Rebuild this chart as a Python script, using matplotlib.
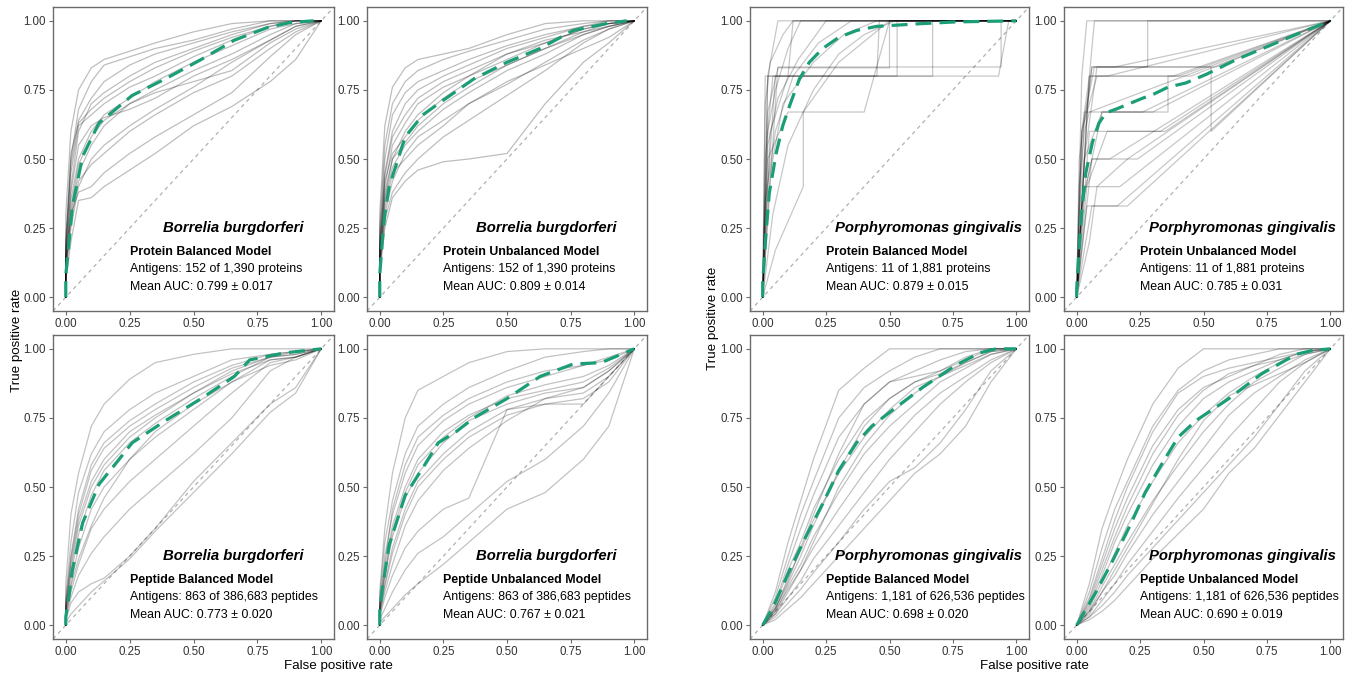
import matplotlib
matplotlib.use("Agg")
import matplotlib.pyplot as plt

plt.rcParams['font.family'] = ['Liberation Sans', 'DejaVu Sans']

# ---- data ----
SPECIES = ["Borrelia burgdorferi", "Porphyromonas gingivalis"]
MODELS = ["Protein Balanced Model", "Protein Unbalanced Model",
          "Peptide Balanced Model", "Peptide Unbalanced Model"]
ANTIGENS = {
    "bb_prot": "Antigens: 152 of 1,390 proteins",
    "bb_pep": "Antigens: 863 of 386,683 peptides",
    "pg_prot": "Antigens: 11 of 1,881 proteins",
    "pg_pep": "Antigens: 1,181 of 626,536 peptides",
}
AUC_BB = ["0.799 \u00b1 0.017", "0.809 \u00b1 0.014", "0.773 \u00b1 0.020", "0.767 \u00b1 0.021"]
AUC_PG = ["0.879 \u00b1 0.015", "0.785 \u00b1 0.031", "0.698 \u00b1 0.020", "0.690 \u00b1 0.019"]

# fpr grid used for the per-fold curves of the smooth panels
BB_GRID = [0, 0, 0.02, 0.05, 0.1, 0.15, 0.25, 0.35, 0.5, 0.65, 0.8, 0.9, 1.0]
PG_GRID = [0, 0.05, 0.1, 0.15, 0.2, 0.3, 0.4, 0.5, 0.6, 0.7, 0.8, 0.9, 1.0]

# Borrelia, protein balanced
bb_prot_bal_mean_fpr = [0, 0, 0.013, 0.026, 0.066, 0.13, 0.26, 0.39, 0.53, 0.66, 0.79, 0.88, 0.97]
bb_prot_bal_mean_tpr = [0, 0.08, 0.2, 0.33, 0.51, 0.63, 0.73, 0.79, 0.86, 0.93, 0.976, 0.994, 1.0]
bb_prot_bal_folds = [
    [0, 0.30, 0.60, 0.75, 0.83, 0.86, 0.89, 0.92, 0.96, 0.99, 1.0, 1.0, 1.0],
    [0, 0.20, 0.50, 0.68, 0.78, 0.84, 0.87, 0.90, 0.93, 0.97, 1.0, 1.0, 1.0],
    [0, 0.15, 0.40, 0.60, 0.70, 0.74, 0.80, 0.85, 0.90, 0.95, 0.99, 1.0, 1.0],
    [0, 0.18, 0.45, 0.62, 0.66, 0.70, 0.76, 0.80, 0.87, 0.93, 0.98, 1.0, 1.0],
    [0, 0.12, 0.35, 0.50, 0.60, 0.66, 0.72, 0.78, 0.85, 0.91, 0.97, 0.99, 1.0],
    [0, 0.10, 0.30, 0.45, 0.55, 0.62, 0.70, 0.75, 0.82, 0.88, 0.95, 0.99, 1.0],
    [0, 0.14, 0.38, 0.55, 0.62, 0.65, 0.68, 0.72, 0.80, 0.86, 0.93, 0.98, 1.0],
    [0, 0.08, 0.25, 0.40, 0.50, 0.55, 0.62, 0.68, 0.76, 0.85, 0.93, 0.98, 1.0],
    [0, 0.10, 0.30, 0.38, 0.40, 0.45, 0.52, 0.58, 0.66, 0.74, 0.87, 0.95, 1.0],
    [0, 0.06, 0.20, 0.35, 0.36, 0.40, 0.46, 0.52, 0.62, 0.69, 0.78, 0.86, 1.0],
    [0, 0.16, 0.48, 0.64, 0.72, 0.78, 0.84, 0.88, 0.92, 0.96, 0.99, 1.0, 1.0],
    [0, 0.12, 0.32, 0.48, 0.58, 0.64, 0.70, 0.74, 0.78, 0.82, 0.92, 0.97, 1.0],
    [0, 0.20, 0.52, 0.63, 0.68, 0.72, 0.78, 0.83, 0.89, 0.94, 0.98, 1.0, 1.0],
    [0, 0.10, 0.28, 0.42, 0.48, 0.52, 0.60, 0.66, 0.74, 0.80, 0.90, 0.96, 1.0],
]

# Borrelia, protein unbalanced
bb_prot_unb_mean_fpr = [0, 0, 0.01, 0.02, 0.037, 0.1, 0.17, 0.23, 0.37, 0.5, 0.63, 0.76, 0.89, 0.97]
bb_prot_unb_mean_tpr = [0, 0.08, 0.2, 0.3, 0.4, 0.58, 0.66, 0.70, 0.79, 0.85, 0.90, 0.965, 0.99, 1.0]
bb_prot_unb_folds = [
    [0, 0.30, 0.62, 0.76, 0.83, 0.86, 0.88, 0.90, 0.95, 0.99, 1.0, 1.0, 1.0],
    [0, 0.25, 0.55, 0.70, 0.78, 0.82, 0.86, 0.89, 0.93, 0.97, 0.99, 1.0, 1.0],
    [0, 0.20, 0.45, 0.60, 0.70, 0.75, 0.80, 0.84, 0.90, 0.94, 0.98, 1.0, 1.0],
    [0, 0.15, 0.40, 0.55, 0.63, 0.70, 0.76, 0.80, 0.86, 0.92, 0.97, 0.99, 1.0],
    [0, 0.18, 0.42, 0.52, 0.58, 0.64, 0.72, 0.78, 0.84, 0.90, 0.96, 0.99, 1.0],
    [0, 0.12, 0.35, 0.47, 0.55, 0.60, 0.68, 0.74, 0.82, 0.88, 0.95, 0.98, 1.0],
    [0, 0.10, 0.30, 0.42, 0.52, 0.58, 0.64, 0.70, 0.77, 0.85, 0.93, 0.97, 1.0],
    [0, 0.10, 0.28, 0.38, 0.45, 0.50, 0.58, 0.64, 0.73, 0.82, 0.92, 0.97, 1.0],
    [0, 0.08, 0.25, 0.36, 0.42, 0.46, 0.49, 0.50, 0.52, 0.70, 0.85, 0.92, 1.0],
    [0, 0.14, 0.38, 0.50, 0.60, 0.66, 0.74, 0.80, 0.88, 0.93, 0.96, 0.98, 1.0],
    [0, 0.22, 0.50, 0.66, 0.74, 0.78, 0.82, 0.86, 0.91, 0.95, 0.98, 0.99, 1.0],
    [0, 0.12, 0.32, 0.45, 0.50, 0.55, 0.62, 0.70, 0.78, 0.84, 0.90, 0.94, 1.0],
    [0, 0.16, 0.44, 0.58, 0.66, 0.72, 0.78, 0.82, 0.88, 0.92, 0.97, 0.99, 1.0],
    [0, 0.12, 0.36, 0.50, 0.56, 0.62, 0.70, 0.76, 0.84, 0.90, 0.95, 0.98, 1.0],
]

# Borrelia, peptide balanced
bb_pep_bal_mean_fpr = [0, 0, 0.013, 0.026, 0.066, 0.13, 0.2, 0.26, 0.39, 0.53, 0.66, 0.72, 0.855, 1.0]
bb_pep_bal_mean_tpr = [0, 0.03, 0.107, 0.2, 0.37, 0.51, 0.59, 0.66, 0.74, 0.82, 0.90, 0.96, 0.985, 1.0]
bb_pep_bal_folds = [
    [0, 0.15, 0.40, 0.55, 0.72, 0.80, 0.89, 0.95, 0.98, 1.0, 1.0, 1.0, 1.0],
    [0, 0.10, 0.30, 0.48, 0.62, 0.70, 0.78, 0.84, 0.90, 0.96, 0.98, 0.99, 1.0],
    [0, 0.08, 0.25, 0.42, 0.58, 0.66, 0.74, 0.80, 0.88, 0.94, 0.98, 0.99, 1.0],
    [0, 0.06, 0.22, 0.38, 0.52, 0.60, 0.70, 0.76, 0.84, 0.92, 0.97, 0.99, 1.0],
    [0, 0.05, 0.18, 0.33, 0.47, 0.56, 0.66, 0.73, 0.82, 0.90, 0.97, 0.98, 1.0],
    [0, 0.05, 0.15, 0.28, 0.42, 0.50, 0.60, 0.68, 0.78, 0.88, 0.96, 0.97, 1.0],
    [0, 0.04, 0.12, 0.22, 0.35, 0.42, 0.52, 0.60, 0.72, 0.84, 0.95, 0.97, 1.0],
    [0, 0.03, 0.10, 0.18, 0.26, 0.32, 0.42, 0.50, 0.62, 0.75, 0.92, 0.97, 1.0],
    [0, 0.02, 0.08, 0.12, 0.15, 0.17, 0.25, 0.35, 0.52, 0.66, 0.80, 0.86, 1.0],
    [0, 0.01, 0.04, 0.07, 0.12, 0.16, 0.24, 0.34, 0.48, 0.62, 0.77, 0.84, 1.0],
    [0, 0.07, 0.24, 0.40, 0.56, 0.64, 0.72, 0.78, 0.86, 0.93, 0.97, 0.98, 1.0],
    [0, 0.03, 0.14, 0.24, 0.36, 0.46, 0.60, 0.70, 0.80, 0.88, 0.94, 0.96, 1.0],
    [0, 0.06, 0.20, 0.36, 0.50, 0.58, 0.68, 0.75, 0.84, 0.91, 0.96, 0.97, 1.0],
]

# Borrelia, peptide unbalanced
bb_pep_unb_mean_fpr = [0, 0, 0.01, 0.037, 0.1, 0.17, 0.23, 0.3, 0.37, 0.5, 0.63, 0.76, 0.87, 1.0]
bb_pep_unb_mean_tpr = [0, 0.05, 0.13, 0.29, 0.47, 0.57, 0.66, 0.70, 0.75, 0.82, 0.90, 0.945, 0.95, 1.0]
bb_pep_unb_folds = [
    [0, 0.12, 0.35, 0.55, 0.75, 0.85, 0.90, 0.95, 0.99, 1.0, 1.0, 1.0, 1.0],
    [0, 0.10, 0.30, 0.45, 0.62, 0.72, 0.80, 0.86, 0.92, 0.97, 0.99, 1.0, 1.0],
    [0, 0.08, 0.25, 0.40, 0.55, 0.65, 0.74, 0.80, 0.86, 0.90, 0.94, 0.97, 1.0],
    [0, 0.06, 0.20, 0.36, 0.50, 0.60, 0.70, 0.76, 0.82, 0.85, 0.88, 0.93, 1.0],
    [0, 0.05, 0.18, 0.32, 0.46, 0.55, 0.66, 0.74, 0.80, 0.84, 0.86, 0.92, 1.0],
    [0, 0.05, 0.15, 0.28, 0.42, 0.52, 0.62, 0.70, 0.78, 0.80, 0.80, 0.90, 1.0],
    [0, 0.04, 0.12, 0.22, 0.36, 0.45, 0.56, 0.64, 0.74, 0.82, 0.86, 0.92, 1.0],
    [0, 0.03, 0.10, 0.18, 0.28, 0.34, 0.42, 0.46, 0.78, 0.82, 0.84, 0.90, 1.0],
    [0, 0.02, 0.06, 0.12, 0.20, 0.26, 0.32, 0.40, 0.52, 0.60, 0.72, 0.84, 1.0],
    [0, 0.01, 0.03, 0.06, 0.11, 0.15, 0.22, 0.30, 0.42, 0.48, 0.60, 0.72, 1.0],
    [0, 0.07, 0.22, 0.42, 0.58, 0.68, 0.76, 0.82, 0.88, 0.92, 0.94, 0.96, 1.0],
    [0, 0.04, 0.14, 0.26, 0.40, 0.50, 0.60, 0.68, 0.76, 0.80, 0.82, 0.88, 1.0],
    [0, 0.06, 0.18, 0.34, 0.48, 0.58, 0.68, 0.75, 0.83, 0.87, 0.90, 0.94, 1.0],
]

# Porphyromonas, protein balanced (few positives -> step curves)
pg_prot_bal_mean_fpr = [0, 0, 0.013, 0.026, 0.053, 0.079, 0.105, 0.145, 0.184, 0.237, 0.30, 0.37, 0.45, 0.63, 0.76, 1.0]
pg_prot_bal_mean_tpr = [0, 0.05, 0.23, 0.376, 0.52, 0.62, 0.69, 0.79, 0.85, 0.90, 0.94, 0.965, 0.98, 0.99, 0.996, 1.0]
pg_prot_bal_folds = [
    ([0, 0.02, 0.93, 0.97, 1.0], [0, 0.8, 0.8, 1.0, 1.0]),
    ([0, 0.06, 0.94, 0.94, 0.98, 1.0], [0, 0.833, 0.833, 1.0, 1.0, 1.0]),
    ([0, 0.02, 0.05, 0.45, 0.46, 1.0], [0, 0.4, 0.8, 0.8, 1.0, 1.0]),
    ([0, 0.03, 0.1, 0.67, 0.67, 1.0], [0, 0.6, 0.8, 0.8, 1.0, 1.0]),
    ([0, 0.02, 0.06, 1.0], [0, 0.8, 1.0, 1.0]),
    ([0, 0.05, 0.16, 0.16, 0.3, 0.5, 1.0], [0, 0.17, 0.4, 0.67, 0.85, 1.0, 1.0]),
    ([0, 0.02, 0.1, 0.36, 0.4, 0.5, 1.0], [0, 0.5, 0.67, 0.67, 0.67, 1.0, 1.0]),
    ([0, 0.01, 0.04, 0.1, 0.53, 0.53, 1.0], [0, 0.5, 0.8, 0.8, 0.8, 1.0, 1.0]),
    ([0, 0.02, 0.05, 0.1, 0.15, 1.0], [0, 0.6, 0.75, 0.9, 1.0, 1.0]),
    ([0, 0.01, 0.03, 0.08, 0.12, 1.0], [0, 0.7, 0.85, 0.95, 1.0, 1.0]),
    ([0, 0.03, 0.08, 0.2, 0.32, 0.45, 1.0], [0, 0.45, 0.7, 0.85, 0.95, 1.0, 1.0]),
    ([0, 0.04, 0.1, 0.2, 0.3, 0.4, 0.52, 1.0], [0, 0.3, 0.55, 0.75, 0.88, 0.95, 1.0, 1.0]),
    ([0, 0.01, 0.1, 0.12, 1.0], [0, 0.8, 0.8, 1.0, 1.0]),
    ([0, 0.02, 0.06, 0.1, 0.5, 0.5, 1.0], [0, 0.67, 0.83, 0.83, 0.83, 1.0, 1.0]),
    ([0, 0.02, 0.06, 0.14, 0.25, 1.0], [0, 0.55, 0.72, 0.86, 1.0, 1.0]),
    ([0, 0.01, 0.05, 0.12, 0.22, 0.35, 1.0], [0, 0.35, 0.6, 0.8, 0.92, 1.0, 1.0]),
]

# Porphyromonas, protein unbalanced (steps then straight to (1, 1))
pg_prot_unb_mean_fpr = [0, 0, 0.009, 0.022, 0.036, 0.062, 0.088, 0.115, 0.154, 0.207, 0.26, 0.3, 0.36, 0.43, 0.51, 0.63, 0.76, 0.89, 1.0]
pg_prot_unb_mean_tpr = [0, 0.03, 0.17, 0.33, 0.45, 0.56, 0.63, 0.667, 0.68, 0.70, 0.72, 0.733, 0.76, 0.775, 0.806, 0.86, 0.91, 0.96, 1.0]
pg_prot_unb_folds = [
    ([0, 0.05, 0.07, 1.0], [0, 0.8, 1.0, 1.0]),
    ([0, 0.04, 0.06, 0.28, 0.28, 1.0], [0, 0.67, 0.833, 0.833, 1.0, 1.0]),
    ([0, 0.05, 0.4, 1.0], [0, 0.8, 0.8, 1.0]),
    ([0, 0.03, 0.08, 0.55, 1.0], [0, 0.5, 0.833, 0.833, 1.0]),
    ([0, 0.02, 0.1, 0.26, 1.0], [0, 0.33, 0.67, 0.67, 1.0]),
    ([0, 0.05, 0.33, 1.0], [0, 0.6, 0.6, 1.0]),
    ([0, 0.06, 0.24, 1.0], [0, 0.5, 0.5, 1.0]),
    ([0, 0.03, 0.17, 1.0], [0, 0.4, 0.4, 1.0]),
    ([0, 0.04, 0.2, 1.0], [0, 0.33, 0.33, 1.0]),
    ([0, 0.02, 0.05, 0.12, 1.0], [0, 0.6, 0.8, 0.8, 1.0]),
    ([0, 0.01, 0.06, 0.15, 1.0], [0, 0.5, 0.833, 0.833, 1.0]),
    ([0, 0.05, 0.08, 0.2, 1.0], [0, 0.2, 0.4, 0.5, 1.0]),
    ([0, 0.03, 0.36, 0.36, 0.38, 1.0], [0, 0.67, 0.67, 0.8, 0.8, 1.0]),
    ([0, 0.02, 0.04, 1.0], [0, 0.8, 1.0, 1.0]),
    ([0, 0.03, 0.06, 0.16, 1.0], [0, 0.17, 0.33, 0.33, 1.0]),
    ([0, 0.02, 0.07, 0.53, 0.53, 1.0], [0, 0.6, 0.833, 0.833, 0.6, 1.0]),
    ([0, 0.03, 0.1, 0.3, 1.0], [0, 0.5, 0.67, 0.67, 1.0]),
    ([0, 0.02, 0.08, 0.45, 1.0], [0, 0.6, 0.8, 0.8, 1.0]),
    ([0, 0.04, 0.12, 0.35, 1.0], [0, 0.4, 0.6, 0.6, 1.0]),
    ([0, 0.01, 0.03, 0.05, 1.0], [0, 0.4, 0.6, 0.67, 1.0]),
    ([0, 0.02, 0.06, 0.13, 1.0], [0, 0.33, 0.5, 0.5, 1.0]),
]

# Porphyromonas, peptide balanced
pg_pep_bal_mean_fpr = [0, 0.04, 0.105, 0.17, 0.237, 0.30, 0.37, 0.43, 0.5, 0.63, 0.76, 0.855, 0.92, 1.0]
pg_pep_bal_mean_tpr = [0, 0.063, 0.196, 0.32, 0.44, 0.56, 0.66, 0.72, 0.77, 0.86, 0.94, 0.985, 1.0, 1.0]
pg_pep_bal_folds = [
    [0, 0.12, 0.30, 0.45, 0.60, 0.85, 0.93, 1.0, 1.0, 1.0, 1.0, 1.0, 1.0],
    [0, 0.10, 0.25, 0.40, 0.52, 0.75, 0.86, 0.92, 0.97, 1.0, 1.0, 1.0, 1.0],
    [0, 0.08, 0.22, 0.35, 0.47, 0.68, 0.80, 0.88, 0.92, 0.96, 0.99, 1.0, 1.0],
    [0, 0.07, 0.20, 0.30, 0.42, 0.60, 0.74, 0.82, 0.88, 0.92, 0.96, 1.0, 1.0],
    [0, 0.06, 0.17, 0.27, 0.38, 0.55, 0.68, 0.78, 0.86, 0.90, 0.94, 0.98, 1.0],
    [0, 0.05, 0.14, 0.22, 0.32, 0.48, 0.62, 0.72, 0.80, 0.88, 0.93, 0.98, 1.0],
    [0, 0.04, 0.12, 0.20, 0.28, 0.42, 0.55, 0.66, 0.76, 0.84, 0.90, 0.96, 1.0],
    [0, 0.04, 0.10, 0.16, 0.24, 0.36, 0.48, 0.60, 0.70, 0.80, 0.88, 0.95, 1.0],
    [0, 0.03, 0.08, 0.13, 0.19, 0.30, 0.42, 0.52, 0.57, 0.66, 0.78, 0.92, 1.0],
    [0, 0.02, 0.06, 0.10, 0.15, 0.25, 0.35, 0.45, 0.55, 0.62, 0.72, 0.88, 1.0],
    [0, 0.06, 0.16, 0.28, 0.40, 0.62, 0.80, 0.88, 0.90, 0.92, 0.97, 1.0, 1.0],
    [0, 0.05, 0.13, 0.20, 0.30, 0.50, 0.65, 0.76, 0.84, 0.90, 0.95, 0.99, 1.0],
    [0, 0.06, 0.15, 0.25, 0.36, 0.56, 0.72, 0.82, 0.88, 0.91, 0.95, 0.99, 1.0],
]

# Porphyromonas, peptide unbalanced
pg_pep_unb_mean_fpr = [0, 0.076, 0.14, 0.21, 0.27, 0.34, 0.40, 0.47, 0.60, 0.73, 0.865, 0.93, 1.0]
pg_pep_unb_mean_tpr = [0, 0.12, 0.23, 0.36, 0.48, 0.59, 0.68, 0.74, 0.82, 0.91, 0.98, 0.994, 1.0]
pg_pep_unb_folds = [
    [0, 0.15, 0.35, 0.48, 0.60, 0.80, 0.93, 1.0, 1.0, 1.0, 1.0, 1.0, 1.0],
    [0, 0.12, 0.28, 0.42, 0.52, 0.72, 0.85, 0.92, 0.96, 0.98, 1.0, 1.0, 1.0],
    [0, 0.09, 0.22, 0.35, 0.46, 0.65, 0.78, 0.86, 0.90, 0.94, 0.98, 1.0, 1.0],
    [0, 0.07, 0.18, 0.30, 0.40, 0.58, 0.72, 0.82, 0.88, 0.92, 0.96, 0.99, 1.0],
    [0, 0.06, 0.16, 0.26, 0.36, 0.52, 0.66, 0.76, 0.84, 0.90, 0.95, 0.98, 1.0],
    [0, 0.05, 0.14, 0.22, 0.30, 0.45, 0.58, 0.70, 0.80, 0.88, 0.93, 0.98, 1.0],
    [0, 0.04, 0.12, 0.18, 0.26, 0.40, 0.52, 0.64, 0.76, 0.84, 0.90, 0.96, 1.0],
    [0, 0.03, 0.09, 0.15, 0.22, 0.34, 0.46, 0.57, 0.68, 0.78, 0.88, 0.95, 1.0],
    [0, 0.03, 0.07, 0.12, 0.18, 0.28, 0.38, 0.48, 0.58, 0.68, 0.80, 0.92, 1.0],
    [0, 0.02, 0.05, 0.09, 0.14, 0.24, 0.33, 0.42, 0.55, 0.64, 0.76, 0.88, 1.0],
    [0, 0.10, 0.24, 0.38, 0.50, 0.70, 0.84, 0.90, 0.93, 0.95, 0.97, 0.99, 1.0],
    [0, 0.05, 0.12, 0.20, 0.28, 0.44, 0.60, 0.74, 0.83, 0.87, 0.91, 0.95, 1.0],
    [0, 0.08, 0.20, 0.32, 0.43, 0.62, 0.76, 0.85, 0.91, 0.94, 0.96, 0.99, 1.0],
]

MEAN_COLOR = "#1B9E77"
FRAME = "#6b6b6b"

W, H = 1351, 677
COLS = [(53, 334), (367, 647), (750, 1029), (1064, 1343)]
ROWS = [(7, 311), (335, 639)]


def add_px_axes(fig, xs, ys):
    x0, x1 = xs
    y0, y1 = ys
    return fig.add_axes([x0 / W, 1 - y1 / H, (x1 - x0) / W, (y1 - y0) / H])


def draw_panel(ax, folds, mean_fpr, mean_tpr, species, model, antigens, auc, alpha):
    ax.plot([-0.05, 1.05], [-0.05, 1.05], color="#b0b0b0", lw=0.9,
            ls=(0, (3, 3)), zorder=1)
    for fpr, tpr in folds:
        ax.plot(fpr, tpr, color="black", alpha=alpha, lw=0.9, zorder=2)
    ax.plot(mean_fpr, mean_tpr, color=MEAN_COLOR, lw=2.3, ls=(0, (5, 2.5)), zorder=3)

    ax.set_xlim(-0.05, 1.05)
    ax.set_ylim(-0.05, 1.05)
    ticks = [0, 0.25, 0.5, 0.75, 1.0]
    ax.set_xticks(ticks)
    ax.set_yticks(ticks)
    ax.set_xticklabels(["%.2f" % t for t in ticks])
    ax.set_yticklabels(["%.2f" % t for t in ticks])
    ax.tick_params(direction="out", length=3, width=0.8, color=FRAME,
                   labelsize=8.3, labelcolor="#333333", pad=2)
    for sp in ax.spines.values():
        sp.set_color(FRAME)
        sp.set_linewidth(1.0)

    ax.text(0.655, 0.25, species, ha="center", va="center", fontsize=10.7,
            fontweight="bold", fontstyle="italic", color="black", zorder=5)
    ax.text(0.25, 0.165, model, ha="left", va="center", fontsize=8.9,
            fontweight="bold", color="black", zorder=5)
    ax.text(0.25, 0.102, antigens, ha="left", va="center", fontsize=8.9,
            color="black", zorder=5)
    ax.text(0.25, 0.037, "Mean AUC: " + auc, ha="left", va="center",
            fontsize=8.9, color="black", zorder=5)


def on_grid(grid, folds):
    return [(grid, tpr) for tpr in folds]


fig = plt.figure(figsize=(W / 100, H / 100), dpi=100)

panels = [
    # (col, row, folds, mean fpr, mean tpr, species, model, antigens, auc, alpha)
    (0, 0, on_grid(BB_GRID, bb_prot_bal_folds), bb_prot_bal_mean_fpr, bb_prot_bal_mean_tpr,
     SPECIES[0], MODELS[0], ANTIGENS["bb_prot"], AUC_BB[0], 0.26),
    (1, 0, on_grid(BB_GRID, bb_prot_unb_folds), bb_prot_unb_mean_fpr, bb_prot_unb_mean_tpr,
     SPECIES[0], MODELS[1], ANTIGENS["bb_prot"], AUC_BB[1], 0.26),
    (0, 1, on_grid(BB_GRID, bb_pep_bal_folds), bb_pep_bal_mean_fpr, bb_pep_bal_mean_tpr,
     SPECIES[0], MODELS[2], ANTIGENS["bb_pep"], AUC_BB[2], 0.24),
    (1, 1, on_grid(BB_GRID, bb_pep_unb_folds), bb_pep_unb_mean_fpr, bb_pep_unb_mean_tpr,
     SPECIES[0], MODELS[3], ANTIGENS["bb_pep"], AUC_BB[3], 0.24),
    (2, 0, pg_prot_bal_folds, pg_prot_bal_mean_fpr, pg_prot_bal_mean_tpr,
     SPECIES[1], MODELS[0], ANTIGENS["pg_prot"], AUC_PG[0], 0.22),
    (3, 0, pg_prot_unb_folds, pg_prot_unb_mean_fpr, pg_prot_unb_mean_tpr,
     SPECIES[1], MODELS[1], ANTIGENS["pg_prot"], AUC_PG[1], 0.22),
    (2, 1, on_grid(PG_GRID, pg_pep_bal_folds), pg_pep_bal_mean_fpr, pg_pep_bal_mean_tpr,
     SPECIES[1], MODELS[2], ANTIGENS["pg_pep"], AUC_PG[2], 0.24),
    (3, 1, on_grid(PG_GRID, pg_pep_unb_folds), pg_pep_unb_mean_fpr, pg_pep_unb_mean_tpr,
     SPECIES[1], MODELS[3], ANTIGENS["pg_pep"], AUC_PG[3], 0.24),
]

for col, row, folds, mfpr, mtpr, sp, model, ant, auc, alpha in panels:
    ax = add_px_axes(fig, COLS[col], ROWS[row])
    draw_panel(ax, folds, mfpr, mtpr, sp, model, ant, auc, alpha)

# shared axis titles for each species block
fig.text(338 / W, 1 - 666 / H, "False positive rate", ha="center", va="center", fontsize=9.6)
fig.text(1034 / W, 1 - 666 / H, "False positive rate", ha="center", va="center", fontsize=9.6)
fig.text(17 / W, 1 - 340 / H, "True positive rate", ha="center", va="center",
         rotation=90, fontsize=9.6)
fig.text(713 / W, 1 - 318 / H, "True positive rate", ha="center", va="center",
         rotation=90, fontsize=9.6)

fig.savefig("out.png", dpi=100)
